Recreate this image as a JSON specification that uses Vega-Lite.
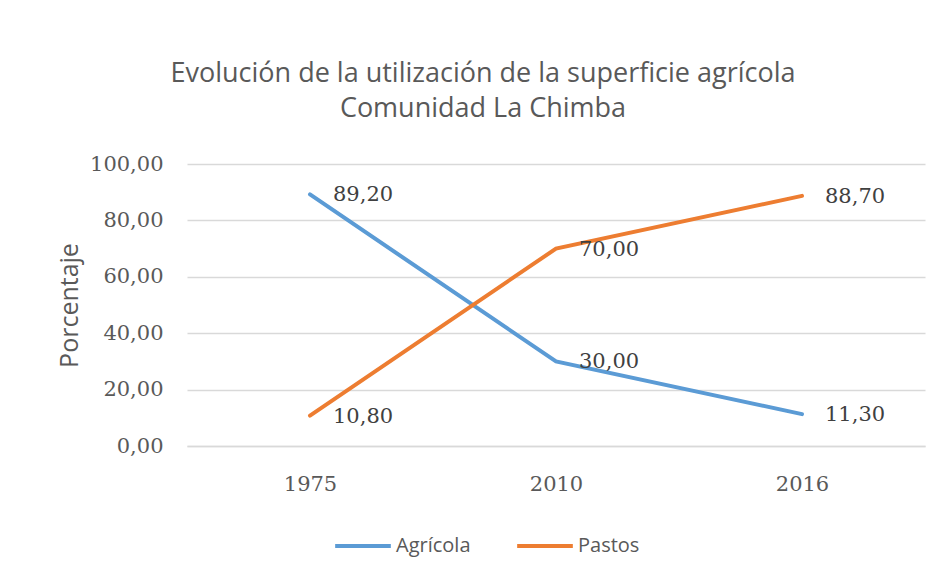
{
  "$schema": "https://vega.github.io/schema/vega-lite/v6.json",
  "width": 738,
  "height": 282,
  "autosize": "none",
  "padding": {"left": 187, "top": 164, "right": 16, "bottom": 134},
  "background": "white",
  "config": {
    "locale": {"number": {"decimal": ",", "thousands": ".", "grouping": [3], "currency": ["", ""]}},
    "view": {"stroke": null}
  },
  "title": {
    "text": ["Evolución de la utilización de la superficie agrícola", "Comunidad La Chimba"],
    "font": "Open Sans",
    "fontSize": 27,
    "fontWeight": "normal",
    "color": "#595959",
    "anchor": "middle",
    "dx": -73,
    "lineHeight": 35,
    "offset": 30
  },
  "data": {
    "values": [
      {"year": "1975", "serie": "Agrícola", "v": 89.2},
      {"year": "1975", "serie": "Pastos", "v": 10.8},
      {"year": "2010", "serie": "Agrícola", "v": 30.0},
      {"year": "2010", "serie": "Pastos", "v": 70.0},
      {"year": "2016", "serie": "Agrícola", "v": 11.3},
      {"year": "2016", "serie": "Pastos", "v": 88.7}
    ]
  },
  "encoding": {
    "x": {
      "field": "year",
      "type": "ordinal",
      "scale": {"type": "point", "padding": 0.5},
      "axis": {
        "title": null,
        "labelAngle": 0,
        "labelFont": "DejaVu Serif",
        "labelFontSize": 21,
        "labelColor": "#595959",
        "labelPadding": 27,
        "ticks": false,
        "grid": false,
        "domainColor": "#d9d9d9",
        "domainWidth": 1.5
      }
    },
    "y": {
      "field": "v",
      "type": "quantitative",
      "scale": {"domain": [0, 100], "nice": false},
      "axis": {
        "values": [0, 20, 40, 60, 80, 100],
        "format": ".2f",
        "grid": true,
        "gridColor": "#d9d9d9",
        "gridWidth": 1.5,
        "domain": false,
        "ticks": false,
        "labelFont": "DejaVu Serif",
        "labelFontSize": 21,
        "labelColor": "#595959",
        "labelPadding": 24,
        "title": "Porcentaje",
        "titleFont": "Open Sans",
        "titleFontSize": 25,
        "titleFontWeight": "normal",
        "titleColor": "#595959",
        "titlePadding": 7
      }
    }
  },
  "layer": [
    {
      "mark": {"type": "line", "strokeWidth": 4, "strokeCap": "round"},
      "encoding": {
        "color": {
          "field": "serie",
          "type": "nominal",
          "scale": {"domain": ["Agrícola", "Pastos"], "range": ["#5B9BD5", "#ED7D31"]},
          "legend": {
            "title": null,
            "orient": "none",
            "legendX": 146,
            "legendY": 352,
            "direction": "horizontal",
            "symbolType": "stroke",
            "symbolStrokeWidth": 4,
            "symbolSize": 3100,
            "labelFont": "Open Sans",
            "labelFontSize": 20,
            "labelColor": "#595959",
            "labelOffset": 3,
            "columnPadding": 38
          }
        }
      }
    },
    {
      "mark": {"type": "text", "align": "left", "baseline": "middle", "dx": 23, "dy": 1, "font": "DejaVu Serif", "fontSize": 21, "color": "#404040"},
      "encoding": {
        "text": {"field": "v", "type": "quantitative", "format": ".2f"}
      }
    }
  ]
}
